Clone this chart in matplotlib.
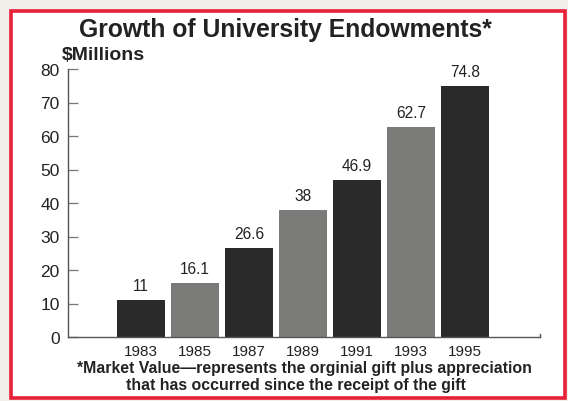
import matplotlib
matplotlib.use("Agg")
import matplotlib.pyplot as plt
from matplotlib.patches import Rectangle

# ---------------- data ----------------
years = ["1983", "1985", "1987", "1989", "1991", "1993", "1995"]
values = [11, 16.1, 26.6, 38, 46.9, 62.7, 74.8]
value_labels = ["11", "16.1", "26.6", "38", "46.9", "62.7", "74.8"]
yticks = [0, 10, 20, 30, 40, 50, 60, 70, 80]

dark = "#2b2a2a"
grey = "#7b7b7a"
bar_colors = [dark, grey, dark, grey, dark, grey, dark]

plt.rcParams["font.family"] = ["Liberation Sans", "DejaVu Sans"]

W, H = 568, 402
fig = plt.figure(figsize=(W / 100, H / 100), dpi=100)
fig.patch.set_facecolor("#efeee8")

# red frame with white inside (behind everything)
frame = Rectangle((11 / W, 1 - 399 / H), (565 - 11) / W, (399 - 12) / H,
                  transform=fig.transFigure, facecolor="white",
                  edgecolor="#e8203a", linewidth=2.6, zorder=-10)
fig.patches.append(frame)

ax = fig.add_axes([68 / W, 1 - 338 / H, (540 - 68) / W, (338 - 70) / H])
ax.set_facecolor("none")
ax.set_zorder(1)

x = list(range(len(years)))
ax.bar(x, values, width=0.9, color=bar_colors, edgecolor="none", zorder=2)

for xi, v, lab in zip(x, values, value_labels):
    ax.annotate(lab, (xi, v), xytext=(0, 5), textcoords="offset points",
                ha="center", va="bottom", fontsize=11.2, color="#222222")

ax.set_xlim(-1.35, 7.39)
ax.set_ylim(0, 80)
ax.set_yticks(yticks)
ax.set_yticklabels([str(t) for t in yticks], fontsize=12.5, color="#222222")
ax.set_xticks(x)
ax.set_xticklabels(years, fontsize=11, color="#222222")

for s in ["top", "right"]:
    ax.spines[s].set_visible(False)
for s in ["left", "bottom"]:
    ax.spines[s].set_color("#555555")
    ax.spines[s].set_linewidth(1.0)

ax.tick_params(axis="y", direction="in", length=7, width=0.9, color="#777777", pad=6)
ax.tick_params(axis="x", length=0, pad=5)

# small tick at end of x axis
ax.plot([1, 1], [0, 0.012], transform=ax.transAxes, color="#555555",
        linewidth=1.0, clip_on=False)

fig.text(285 / W, 1 - 30 / H, "Growth of University Endowments*",
         ha="center", va="center", fontsize=17.8, fontweight="bold", color="#222222")
fig.text(62 / W, 1 - 56 / H, "$Millions", ha="left", va="center",
         fontsize=14, fontweight="bold", color="#222222")
fig.text(304 / W, 1 - 369 / H,
         "*Market Value\u2014represents the orginial gift plus appreciation",
         ha="center", va="center", fontsize=11.4, fontweight="bold", color="#222222")
fig.text(296 / W, 1 - 386 / H, "that has occurred since the receipt of the gift",
         ha="center", va="center", fontsize=11.4, fontweight="bold", color="#222222")

fig.savefig("out.png", dpi=100, facecolor=fig.get_facecolor())
